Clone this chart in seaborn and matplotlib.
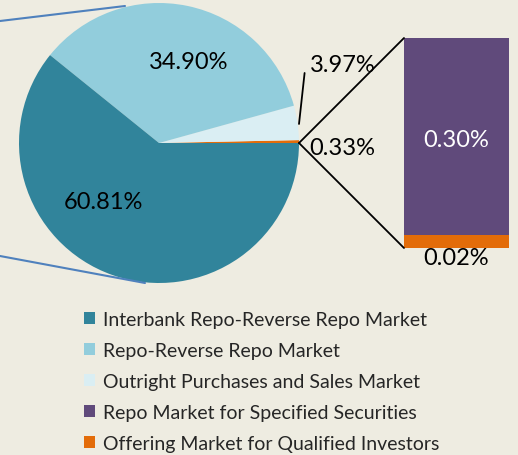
import matplotlib
matplotlib.use("Agg")
import matplotlib.pyplot as plt
from matplotlib.patches import Patch, ConnectionPatch
from matplotlib.lines import Line2D
import seaborn as sns
import pandas as pd

# ---- data ----
pie_labels = ["Offering Market for Qualified Investors (other)", "Outright Purchases and Sales Market",
              "Repo-Reverse Repo Market", "Interbank Repo-Reverse Repo Market"]
pie_values = [0.33, 3.97, 34.90, 60.81]
pie_text = ["0.33%", "3.97%", "34.90%", "60.81%"]
bar_categories = ["Repo Market for Specified Securities", "Offering Market for Qualified Investors"]
bar_values = [0.30, 0.02]
bar_text = ["0.30%", "0.02%"]
legend_labels = ["Interbank Repo-Reverse Repo Market", "Repo-Reverse Repo Market",
                 "Outright Purchases and Sales Market", "Repo Market for Specified Securities",
                 "Offering Market for Qualified Investors"]

TEAL = "#31849B"
LBLUE = "#92CDDC"
PALE = "#DAEEF3"
PURPLE = "#604A7B"
ORANGE = "#E36C09"
BG = "#EEECE1"

sns.set_theme(style="white")
plt.rcParams["font.family"] = ["Lato", "DejaVu Sans"]

W, H = 518, 456
fig = plt.figure(figsize=(W / 100, H / 100), dpi=100, facecolor=BG)

def px_axes(x0, y0, x1, y1):
    return fig.add_axes([x0 / W, 1 - y1 / H, (x1 - x0) / W, (y1 - y0) / H])

# ---- pie ----
ax_pie = px_axes(19, 4, 299, 284)
ax_pie.set_facecolor("none")
ax_pie.pie(pie_values, colors=[ORANGE, PALE, LBLUE, TEAL], startangle=0,
           counterclock=True, radius=1.0, wedgeprops=dict(linewidth=0))
ax_pie.set_xlim(-1, 1)
ax_pie.set_ylim(-1, 1)
ax_pie.set_aspect("equal")
ax_pie.axis("off")

lab_fs = 17
ax_pie.text(0.21, 0.585, pie_text[2], ha="center", va="center", fontsize=lab_fs, color="black")
ax_pie.text(-0.40, -0.42, pie_text[3], ha="center", va="center", fontsize=lab_fs, color="black")
ax_pie.text(1.31, 0.56, pie_text[1], ha="center", va="center", fontsize=lab_fs, color="black",
            clip_on=False)
ax_pie.text(1.31, -0.03, pie_text[0], ha="center", va="center", fontsize=lab_fs, color="black",
            clip_on=False)
ax_pie.add_line(Line2D([1.0, 1.04], [0.136, 0.50], color="black", lw=1.3, clip_on=False))

# ---- stacked bar ----
ax_bar = px_axes(404, 39, 509, 249)
ax_bar.set_facecolor("none")
total = sum(bar_values)
df_tot = pd.DataFrame({"g": ["x"], "v": [total]})
df_low = pd.DataFrame({"g": ["x"], "v": [bar_values[1]]})
sns.barplot(data=df_tot, x="g", y="v", color=PURPLE, width=1.0, saturation=1,
            linewidth=0, ax=ax_bar)
sns.barplot(data=df_low, x="g", y="v", color=ORANGE, width=1.0, saturation=1,
            linewidth=0, ax=ax_bar)
ax_bar.set_xlim(-0.5, 0.5)
ax_bar.set_ylim(0, total)
ax_bar.axis("off")
ax_bar.text(0, bar_values[1] + bar_values[0] * 0.5 - 0.005, bar_text[0], ha="center", va="center",
            fontsize=lab_fs, color="white")
ax_bar.text(0, -0.0145, bar_text[1], ha="center", va="center", fontsize=lab_fs, color="black",
            clip_on=False)

# ---- connectors ----
for yb in (total, 0):
    con = ConnectionPatch(xyA=(1.0, 0.0), coordsA=ax_pie.transData,
                          xyB=(-0.5, yb), coordsB=ax_bar.transData,
                          color="black", lw=1.3)
    fig.add_artist(con)

# stray blue lines (decoration from original)
for (x0, y0, x1, y1) in [(0, 22, 125, 7), (0, 257, 145, 284)]:
    fig.add_artist(Line2D([x0 / W, x1 / W], [1 - y0 / H, 1 - y1 / H],
                          transform=fig.transFigure, color="#4F81BD", lw=1.5))

# ---- legend ----
handles = [Patch(facecolor=c, edgecolor="none") for c in [TEAL, LBLUE, PALE, PURPLE, ORANGE]]
fig.legend(handles, legend_labels, loc="upper left",
           bbox_to_anchor=(84 / W, 1 - 312 / H), frameon=False, fontsize=14.0,
           handlelength=0.57, handleheight=0.62, handletextpad=0.42,
           labelspacing=0.72, borderpad=0, borderaxespad=0)

fig.savefig("out.png", dpi=100, facecolor=BG)
